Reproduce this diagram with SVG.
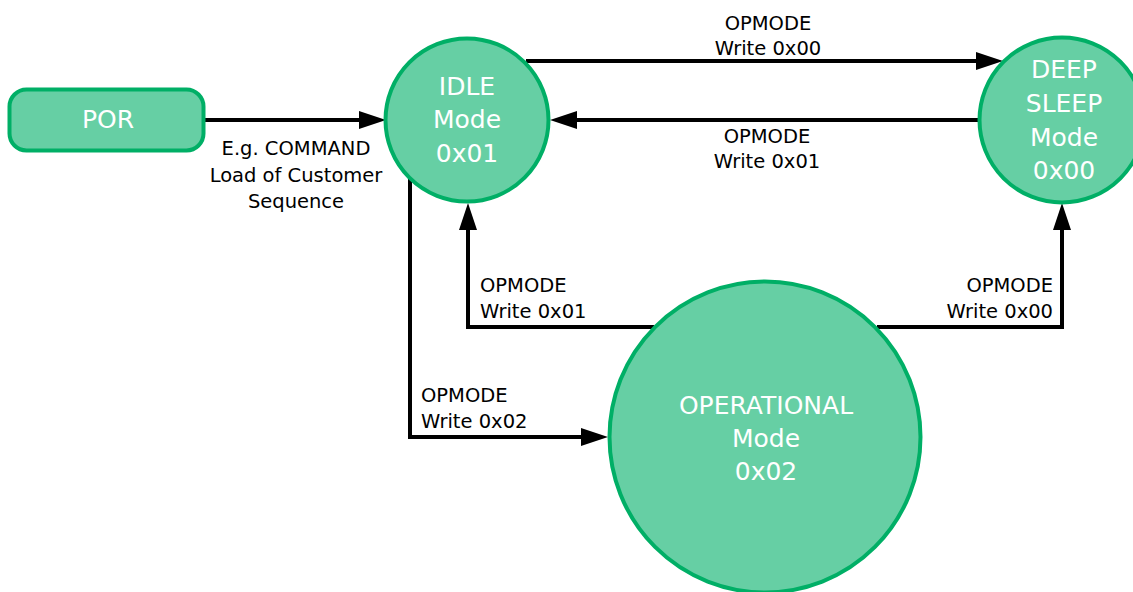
<svg xmlns="http://www.w3.org/2000/svg" width="1133" height="592" viewBox="0 0 1133 592">
<style>
.node{fill:#66CFA4;stroke:#00AF66;stroke-width:4}
.nt{font-family:"DejaVu Sans",sans-serif;font-size:25px;fill:#ffffff;text-anchor:middle}
.lbl{font-family:"DejaVu Sans",sans-serif;font-size:19.5px;fill:#000000}
.c{text-anchor:middle}
.conn{fill:none;stroke:#000000;stroke-width:4}
</style>
<defs>
<marker id="arr" markerUnits="userSpaceOnUse" markerWidth="27" markerHeight="18" viewBox="0 0 27 18" refX="1" refY="9" orient="auto">
<path d="M0,0 L27,9 L0,18 Z" fill="#000000"/>
</marker>
</defs>
<rect width="1133" height="592" fill="#ffffff"/>
<g id="connectors">
<path class="conn" d="M205,120 H360" marker-end="url(#arr)"/>
<path class="conn" d="M526,61 H977" marker-end="url(#arr)"/>
<path class="conn" d="M979,120 H576" marker-end="url(#arr)"/>
<path class="conn" d="M654,327 H468 V229" marker-end="url(#arr)"/>
<path class="conn" d="M877,327 H1062 V229" marker-end="url(#arr)"/>
<path class="conn" d="M410,177 V437 H582" marker-end="url(#arr)"/>
</g>
<g id="labels">
<text class="lbl c" x="296" y="155">E.g. COMMAND</text>
<text class="lbl c" x="296" y="182">Load of Customer</text>
<text class="lbl c" x="296" y="208">Sequence</text>
<text class="lbl c" x="768" y="30">OPMODE</text>
<text class="lbl c" x="768" y="55">Write 0x00</text>
<text class="lbl c" x="767" y="143">OPMODE</text>
<text class="lbl c" x="767" y="168">Write 0x01</text>
<text class="lbl" x="480" y="292">OPMODE</text>
<text class="lbl" x="480" y="318">Write 0x01</text>
<text class="lbl" x="1053" y="292" text-anchor="end">OPMODE</text>
<text class="lbl" x="1053" y="318" text-anchor="end">Write 0x00</text>
<text class="lbl" x="421" y="402">OPMODE</text>
<text class="lbl" x="421" y="428">Write 0x02</text>
</g>
<g id="por">
<rect class="node" x="9.5" y="89.5" width="194" height="61" rx="17"/>
<text class="nt" x="108" y="128">POR</text>
</g>
<g id="idle">
<circle class="node" cx="467" cy="120" r="81.5"/>
<text class="nt" x="467" y="95">IDLE</text>
<text class="nt" x="467" y="128">Mode</text>
<text class="nt" x="467" y="162">0x01</text>
</g>
<g id="deepsleep">
<circle class="node" cx="1062" cy="120" r="82.5"/>
<text class="nt" x="1064" y="78">DEEP</text>
<text class="nt" x="1064" y="112">SLEEP</text>
<text class="nt" x="1064" y="146">Mode</text>
<text class="nt" x="1064" y="179">0x00</text>
</g>
<g id="operational">
<circle class="node" cx="765" cy="437" r="155.5"/>
<text class="nt" x="766" y="414">OPERATIONAL</text>
<text class="nt" x="766" y="447">Mode</text>
<text class="nt" x="766" y="480">0x02</text>
</g>
</svg>
